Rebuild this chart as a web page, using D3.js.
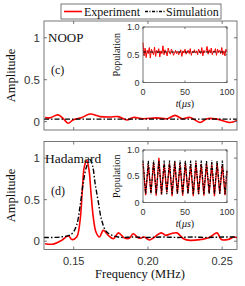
<!DOCTYPE html>
<html lang="en">
<head>
<meta charset="UTF-8">
<title>NOOP / Hadamard spectra</title>
<script src="https://cdnjs.cloudflare.com/ajax/libs/d3/7.8.5/d3.min.js"></script>
<style>
    body { margin: 0; background: #fff; }
    .frame { fill: none; stroke: #555; stroke-width: 0.8px; }
    .tick-mark { stroke: #555; stroke-width: 0.8px; }
    .tick-lbl { font-family: "Liberation Sans", Arial, sans-serif; fill: #333; }
    .serif { font-family: "Liberation Serif", "DejaVu Serif", serif; fill: #111; }
    .exp { fill: none; stroke: #ff0000; stroke-width: 1.6px; }
    .sim { fill: none; stroke: #000; stroke-width: 1.4px; stroke-dasharray: 5,2,1.5,2; }
</style>
</head>
<body>
<div id="chart"></div>
<script>
// ---- data ----
var freqTicks = [0.15, 0.20, 0.25];
var ampTicks = [0, 0.5, 1];
var insetXTicks = [0, 50, 100];
var insetYTicks = [0, 0.5, 1.0];

// NOOP spectrum (frequency MHz, amplitude)
var noopFreq = [0.1307, 0.134, 0.1394, 0.1428, 0.1462, 0.1495, 0.1556, 0.161, 0.1677, 0.1744, 0.1799,
    0.1859, 0.19, 0.1967, 0.2061, 0.2129, 0.2183, 0.223, 0.2284, 0.2351, 0.2398, 0.2466, 0.2553, 0.26];
var noopExp = [0.05, 0.045, 0.08, 0.04, -0.02, 0.02, 0.05, 0.09, 0.06, 0.055, 0.06,
    0.02, 0.05, 0.035, 0.045, 0.035, 0.075, 0.035, 0.05, -0.01, 0.035, 0.03, -0.01, 0.015];
var noopSimFreq = [0.13, 0.26];
var noopSim = [0.03, 0.03];

// Hadamard spectrum
var hadFreq = [0.1307, 0.1363, 0.1419, 0.1464, 0.1487, 0.152, 0.1543, 0.1558, 0.1572, 0.1588, 0.1603,
    0.1617, 0.1632, 0.165, 0.1673, 0.17, 0.1733, 0.1767, 0.1801, 0.184, 0.1875, 0.19, 0.194, 0.1975,
    0.201, 0.209, 0.212, 0.2155, 0.2195, 0.224, 0.2285, 0.2355, 0.241, 0.2465, 0.2495, 0.254, 0.258, 0.26];
var hadExp = [-0.03, -0.035, 0.01, 0.065, 0.02, 0.05, 0.25, 0.61, 0.9, 0.97, 0.86,
    0.57, 0.29, 0.11, 0.05, 0.13, 0.07, 0.03, 0.10, 0.04, 0.035, 0.09, 0.035, 0.05,
    0.015, 0.10, 0.07, 0.09, 0.10, 0.03, 0.01, 0.02, 0.04, 0.10, 0.02, 0.02, 0.05, 0.04];
var hadSimFreq = [0.13, 0.1407, 0.1485, 0.1519, 0.1542, 0.1564, 0.1587, 0.161, 0.1628, 0.1644, 0.1666,
    0.1689, 0.1723, 0.18, 0.19, 0.20, 0.21, 0.22, 0.23, 0.24, 0.25, 0.26];
var hadSim = [0.045, 0.05, 0.085, 0.19, 0.41, 0.7, 0.9, 0.98, 0.9, 0.7, 0.47,
    0.25, 0.11, 0.05, 0.05, 0.045, 0.05, 0.045, 0.05, 0.045, 0.05, 0.05];

// NOOP population vs time (t in us, evenly sampled)
var noopPopExp = [0.72, 0.48, 0.62, 0.45, 0.58, 0.52, 0.63, 0.44, 0.60, 0.55, 0.50, 0.64, 0.47, 0.58,
    0.53, 0.61, 0.46, 0.57, 0.52, 0.66, 0.50, 0.59, 0.54, 0.48, 0.62, 0.55, 0.51, 0.60, 0.56, 0.49,
    0.53, 0.58, 0.52, 0.56, 0.50, 0.55, 0.59, 0.47, 0.57, 0.53, 0.60, 0.51, 0.55, 0.58, 0.52, 0.61,
    0.49, 0.56, 0.54, 0.59, 0.53, 0.57, 0.50, 0.60, 0.55, 0.52, 0.63, 0.48, 0.58, 0.54, 0.56, 0.65,
    0.51, 0.59, 0.53, 0.62, 0.50, 0.57, 0.55, 0.61, 0.49, 0.60, 0.54, 0.58, 0.52, 0.63, 0.50, 0.57,
    0.48, 0.60, 0.55];
var noopPopSimT = [0, 100];
var noopPopSim = [0.55, 0.55];

// Hadamard population vs time, sampled at half periods (3.15 us)
var hadPopSim = [0.80, 0.16, 0.80, 0.16, 0.80, 0.16, 0.80, 0.16, 0.80, 0.16, 0.80, 0.16, 0.80, 0.16,
    0.80, 0.16, 0.80, 0.16, 0.80, 0.16, 0.80, 0.16, 0.80, 0.16, 0.80, 0.16, 0.80, 0.16, 0.80, 0.16,
    0.80, 0.16, 0.62];
var hadPopExp = [0.75, 0.14, 0.72, 0.18, 0.76, 0.13, 0.85, 0.15, 0.73, 0.19, 0.74, 0.12, 0.77, 0.17,
    0.72, 0.13, 0.75, 0.18, 0.71, 0.12, 0.76, 0.16, 0.73, 0.13, 0.74, 0.18, 0.72, 0.12, 0.75, 0.17,
    0.71, 0.14, 0.60];
var halfPeriod = 3.15;

// ---- layout ----
var W = 245, H = 286;
var svg = d3.select("#chart").append("svg").attr("width", W).attr("height", H);

var x = d3.scaleLinear().domain([0.13, 0.26]).range([44, 237]);
var panels = [
    {top: 21, bottom: 130, title: "NOOP", tag: "(c)",
     exp: {f: noopFreq, v: noopExp}, sim: {f: noopSimFreq, v: noopSim},
     inset: {top: 27, bottom: 82.5,
             exp: noopPopExp.map(function(v, i) { return [i * 100 / (noopPopExp.length - 1), v]; }),
             sim: noopPopSimT.map(function(t, i) { return [t, noopPopSim[i]]; })}},
    {top: 141.5, bottom: 249.5, title: "Hadamard", tag: "(d)",
     exp: {f: hadFreq, v: hadExp}, sim: {f: hadSimFreq, v: hadSim},
     inset: {top: 150, bottom: 202.5,
             exp: hadPopExp.map(function(v, i) { return [Math.min(i * halfPeriod, 100), v]; }),
             sim: hadPopSim.map(function(v, i) { return [Math.min(i * halfPeriod, 100), v]; })}}
];

function drawBox(g, xs, ys, xt, yt, len) {
    var x0 = xs.range()[0], x1 = xs.range()[1], y0 = ys.range()[0], y1 = ys.range()[1];
    xt.forEach(function(t) {
        g.append("line").attr("class", "tick-mark").attr("x1", xs(t)).attr("x2", xs(t)).attr("y1", y0).attr("y2", y0 - len);
        g.append("line").attr("class", "tick-mark").attr("x1", xs(t)).attr("x2", xs(t)).attr("y1", y1).attr("y2", y1 + len);
    });
    yt.forEach(function(t) {
        g.append("line").attr("class", "tick-mark").attr("x1", x0).attr("x2", x0 + len).attr("y1", ys(t)).attr("y2", ys(t));
        g.append("line").attr("class", "tick-mark").attr("x1", x1).attr("x2", x1 - len).attr("y1", ys(t)).attr("y2", ys(t));
    });
    g.append("rect").attr("class", "frame").attr("x", x0).attr("y", y1).attr("width", x1 - x0).attr("height", y0 - y1);
}

panels.forEach(function(p, pi) {
    var y = d3.scaleLinear().domain([-0.1, 1.2]).range([p.bottom, p.top]);
    var g = svg.append("g");
    var clipId = "clip" + pi;
    svg.append("clipPath").attr("id", clipId).append("rect")
        .attr("x", 44).attr("y", p.top).attr("width", 193).attr("height", p.bottom - p.top);

    var line = d3.line().x(function(d) { return x(d[0]); }).y(function(d) { return y(d[1]); })
        .curve(d3.curveCatmullRom.alpha(0.5));
    var plot = g.append("g").attr("clip-path", "url(#" + clipId + ")");
    plot.append("path").attr("class", "exp")
        .attr("d", line(p.exp.f.map(function(f, i) { return [f, p.exp.v[i]]; })));
    plot.append("path").attr("class", "sim")
        .attr("d", line(p.sim.f.map(function(f, i) { return [f, p.sim.v[i]]; })));

    drawBox(g, x, y, freqTicks, ampTicks, 3);

    ampTicks.forEach(function(t) {
        g.append("text").attr("class", "tick-lbl").attr("x", 40).attr("y", y(t) + 4)
            .attr("text-anchor", "end").style("font-size", "11.5px").text(t);
    });

    g.append("text").attr("class", "serif").attr("transform", "translate(15," + ((p.top + p.bottom) / 2) + ") rotate(-90)")
        .attr("text-anchor", "middle").style("font-size", "12.5px").text("Amplitude");
    g.append("text").attr("class", "serif").attr("x", pi === 0 ? 48 : 45).attr("y", p.top + 21)
        .style("font-size", pi === 0 ? "13px" : "13.5px").text(p.title);
    g.append("text").attr("class", "serif").attr("x", 51).attr("y", p.top + 53)
        .style("font-size", "12px").text(p.tag);

    // inset
    var ix = d3.scaleLinear().domain([0, 100]).range([143, 227]);
    var iy = d3.scaleLinear().domain([0, 1]).range([p.inset.bottom, p.inset.top]);
    var ig = g.append("g");
    ig.append("rect").attr("x", 143).attr("y", p.inset.top).attr("width", 84)
        .attr("height", p.inset.bottom - p.inset.top).attr("fill", "#fff");
    var iline = d3.line().x(function(d) { return ix(d[0]); }).y(function(d) { return iy(d[1]); });
    ig.append("path").attr("class", "exp").style("stroke-width", pi === 0 ? "1px" : "1.3px").attr("d", iline(p.inset.exp));
    ig.append("path").attr("class", "sim").style("stroke-width", "1.2px")
        .style("stroke-dasharray", pi === 0 ? "3,1.5,1,1.5" : "2.5,1.2,0.8,1.2").attr("d", iline(p.inset.sim));
    drawBox(ig, ix, iy, insetXTicks, insetYTicks, 2);

    insetYTicks.forEach(function(t) {
        ig.append("text").attr("class", "tick-lbl").attr("x", 139.5).attr("y", iy(t) + 3)
            .attr("text-anchor", "end").style("font-size", "9px").text(t === 0 ? "0" : t.toFixed(1));
    });
    insetXTicks.forEach(function(t) {
        ig.append("text").attr("class", "tick-lbl").attr("x", ix(t)).attr("y", p.inset.bottom + 12)
            .attr("text-anchor", "middle").style("font-size", "9px").text(t);
    });
    ig.append("text").attr("class", "serif")
        .attr("transform", "translate(120," + ((p.inset.top + p.inset.bottom) / 2) + ") rotate(-90)")
        .attr("text-anchor", "middle").style("font-size", "10px").text("Population");
    var tl = ig.append("text").attr("class", "serif").attr("x", 185).attr("y", p.inset.bottom + 24)
        .attr("text-anchor", "middle").style("font-size", "10px");
    tl.append("tspan").style("font-style", "italic").text("t");
    tl.append("tspan").text("(");
    tl.append("tspan").style("font-style", "italic").text("\u03bcs");
    tl.append("tspan").text(")");

    // frequency labels only on bottom panel
    if (pi === 1) {
        freqTicks.forEach(function(t) {
            g.append("text").attr("class", "tick-lbl").attr("x", x(t)).attr("y", p.bottom + 15)
                .attr("text-anchor", "middle").style("font-size", "11px").text(t.toFixed(2));
        });
        g.append("text").attr("class", "serif").attr("x", 140).attr("y", 278)
            .attr("text-anchor", "middle").style("font-size", "12.5px").text("Frequency (MHz)");
    }
});

// legend
var lg = svg.append("g");
lg.append("rect").attr("x", 61).attr("y", 4).attr("width", 160).attr("height", 15)
    .attr("fill", "#fff").attr("stroke", "#555").attr("stroke-width", 0.8);
lg.append("line").attr("class", "exp").attr("x1", 64).attr("x2", 82).attr("y1", 11.5).attr("y2", 11.5);
lg.append("text").attr("class", "serif").attr("x", 84).attr("y", 15.5).style("font-size", "12px").text("Experiment");
lg.append("line").attr("class", "sim").attr("x1", 145).attr("x2", 165).attr("y1", 11.5).attr("y2", 11.5)
    .style("stroke-dasharray", "3,1.5,1,1.5");
lg.append("text").attr("class", "serif").attr("x", 166).attr("y", 15.5).style("font-size", "12px").text("Simulation");
</script>
</body>
</html>
